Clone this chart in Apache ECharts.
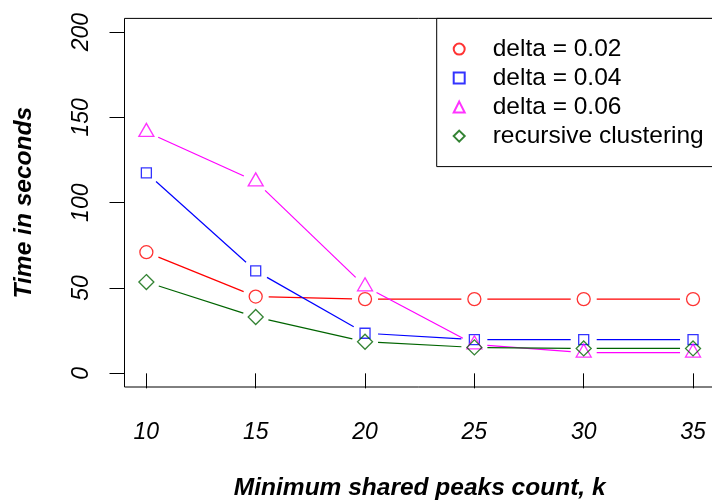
<!DOCTYPE html>
<html>
<head>
<meta charset="utf-8">
<script src="https://cdn.jsdelivr.net/npm/echarts@6/dist/echarts.min.js"></script>
<style>
  html, body { margin: 0; padding: 0; background: #fff; }
  #chart { width: 712px; height: 504px; }
</style>
</head>
<body>
<div id="chart"></div>
<script>
// minimum shared peaks count
const k = [10, 15, 20, 25, 30, 35]
const delta002 = [71, 45, 43.5, 43.5, 43.5, 43.5]
const delta004 = [117.5, 60, 23.5, 19.8, 19.8, 19.8]
const delta006 = [141.5, 112.5, 51, 17, 12.2, 12.2]
const recursive = [53.5, 33, 18.5, 15.2, 14.6, 14.6]
const yTicks = [0, 50, 100, 150, 200]

const FONT = 'Liberation Sans'
const GAP = 13 // R type="b" leaves a gap round each point

const chart = echarts.init(document.getElementById('chart'))

// segments between consecutive points, drawn shortened like R's type="b"
function segments(vals) {
  return k.slice(0, -1).map((x, i) => [x, vals[i], k[i + 1], vals[i + 1]])
}

function segSeries(vals, color) {
  return {
    type: 'custom',
    silent: true,
    data: segments(vals),
    encode: { x: [0, 2], y: [1, 3] },
    renderItem(params, api) {
      const p0 = api.coord([api.value(0), api.value(1)])
      const p1 = api.coord([api.value(2), api.value(3)])
      const dx = p1[0] - p0[0]
      const dy = p1[1] - p0[1]
      const len = Math.sqrt(dx * dx + dy * dy)
      if (len <= 2 * GAP) return null
      const ux = dx / len
      const uy = dy / len
      return {
        type: 'line',
        shape: {
          x1: p0[0] + ux * GAP, y1: p0[1] + uy * GAP,
          x2: p1[0] - ux * GAP, y2: p1[1] - uy * GAP
        },
        style: { stroke: color, lineWidth: 1.2 }
      }
    }
  }
}

function pointSeries(name, vals, color, symbol, size, offset) {
  return {
    name: name,
    type: 'scatter',
    data: k.map((x, i) => [x, vals[i]]),
    symbol: symbol,
    symbolSize: size,
    symbolOffset: offset || [0, 0],
    itemStyle: { color: 'transparent', borderColor: color, borderWidth: 1.3 },
    emphasis: { disabled: true },
    z: 3
  }
}

const option = {
  animation: false,
  grid: {
    left: 124.5,
    top: 18.4,
    width: 590.4,
    height: 368.6,
    show: true,
    borderColor: '#000',
    borderWidth: 1,
    outerBoundsMode: 'none'
  },
  legend: {
    data: ['delta = 0.02', 'delta = 0.04', 'delta = 0.06', 'recursive clustering'],
    orient: 'vertical',
    left: 436.7,
    top: 18.4,
    padding: [18.2, 40, 18, 16],
    itemWidth: 11,
    itemHeight: 11,
    itemGap: 4,
    borderColor: '#000',
    borderWidth: 1,
    backgroundColor: '#fff',
    selectedMode: false,
    textStyle: {
      fontFamily: FONT,
      fontSize: 24.5,
      lineHeight: 24.5,
      color: '#000',
      padding: [0, 0, 0, 23]
    }
  },
  xAxis: {
    type: 'value',
    min: 9,
    max: 36,
    name: 'Minimum shared peaks count, k',
    nameLocation: 'middle',
    nameGap: 89,
    nameTextStyle: { fontFamily: FONT, fontSize: 24.5, fontWeight: 'bold', fontStyle: 'italic', color: '#000' },
    axisLine: { show: false },
    splitLine: { show: false },
    axisTick: { show: true, length: 15, customValues: k, lineStyle: { color: '#000', width: 1 } },
    axisLabel: {
      customValues: k,
      margin: 34,
      fontFamily: FONT,
      fontSize: 23,
      fontStyle: 'italic',
      color: '#000'
    }
  },
  yAxis: {
    type: 'value',
    min: -8,
    max: 208,
    name: 'Time in seconds',
    nameLocation: 'middle',
    nameRotate: 90,
    nameGap: 88,
    nameTextStyle: { fontFamily: FONT, fontSize: 24.5, fontWeight: 'bold', fontStyle: 'italic', color: '#000' },
    axisLine: { show: false },
    splitLine: { show: false },
    axisTick: { show: true, length: 15, customValues: yTicks, lineStyle: { color: '#000', width: 1 } },
    axisLabel: {
      customValues: yTicks,
      rotate: 90,
      margin: 31,
      fontFamily: FONT,
      fontSize: 23,
      fontStyle: 'italic',
      color: '#000'
    }
  },
  series: [
    segSeries(delta002, '#ff0000'),
    segSeries(delta004, '#0000ff'),
    segSeries(delta006, '#ff00ff'),
    segSeries(recursive, '#006400'),
    pointSeries('delta = 0.02', delta002, '#ff0000', 'circle', 13),
    pointSeries('delta = 0.04', delta004, '#0000ff', 'rect', 10),
    pointSeries('delta = 0.06', delta006, '#ff00ff', 'triangle', [15, 13], [0, -2]),
    pointSeries('recursive clustering', recursive, '#006400', 'diamond', [15, 15])
  ]
}

chart.setOption(option)
</script>
</body>
</html>
